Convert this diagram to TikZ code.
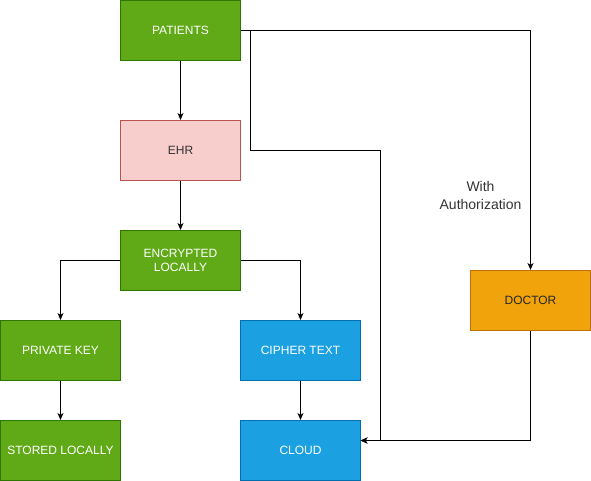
\documentclass[tikz,border=0pt]{standalone}
\usepackage{fontspec}
\setmainfont{Liberation Sans}
\usetikzlibrary{arrows.meta}
\definecolor{gfill}{HTML}{60A917}
\definecolor{gline}{HTML}{2D7600}
\definecolor{pfill}{HTML}{F8CECC}
\definecolor{pline}{HTML}{B85450}
\definecolor{bfill}{HTML}{1BA1E2}
\definecolor{bline}{HTML}{006EAF}
\definecolor{ofill}{HTML}{F0A30A}
\definecolor{oline}{HTML}{BD7000}
\definecolor{lbl}{HTML}{333333}
\begin{document}
\begin{tikzpicture}[x=1pt,y=-1pt,
  box/.style={draw,line width=1pt,minimum width=120pt,minimum height=60pt,inner sep=0pt,align=center,font=\fontsize{12}{14}\selectfont},
  greenbox/.style={box,fill=gfill,draw=gline,text=white},
  pinkbox/.style={box,fill=pfill,draw=pline,text=lbl},
  bluebox/.style={box,fill=bfill,draw=bline,text=white},
  orangebox/.style={box,fill=ofill,draw=oline,text=black!85},
  conn/.style={draw,line width=1pt,-{Stealth[length=7pt,width=6pt,inset=2pt]}},
  edgelabel/.style={align=center,text=lbl,inner sep=0pt,font=\fontsize{14}{18}\selectfont}]
\useasboundingbox (0,0) rectangle (591,481);
\node[greenbox] (pat) at (180.5,30.5) {PATIENTS};
\node[pinkbox] (ehr) at (180.5,150.5) {EHR};
\node[greenbox] (enc) at (180.5,260.5) {ENCRYPTED\\LOCALLY};
\node[greenbox] (pk) at (60.5,350.5) {PRIVATE KEY};
\node[greenbox] (sl) at (60.5,450.5) {STORED LOCALLY};
\node[bluebox] (ct) at (300.5,350.5) {CIPHER TEXT};
\node[bluebox] (cl) at (300.5,450.5) {CLOUD};
\node[orangebox] (doc) at (530.5,300.5) {DOCTOR};
\coordinate (bend1) at (250.5,30.5);
\coordinate (bend2) at (250.5,150.5);
\coordinate (bend3) at (380.5,150.5);
\coordinate (bend4) at (380.5,440.5);
\coordinate (cin) at (360.5,440.5);
\coordinate (dcorner) at (530.5,30.5);
\draw[conn] (pat) -- (ehr);
\draw[conn] (ehr) -- (enc);
\draw[conn] (enc.west) -| (pk.north);
\draw[conn] (enc.east) -| (ct.north);
\draw[conn] (pk) -- (sl);
\draw[conn] (ct) -- (cl);
\draw[conn] (pat.east) -- (bend1) -- (bend2) -- (bend3) -- (bend4) -- (cin);
\draw[conn] (pat.east) -- (dcorner) -- (doc.north);
\node[edgelabel] (auth) at (480.5,195.5) {With\\Authorization};
\draw[conn] (doc.south) |- (cin);
\end{tikzpicture}
\end{document}
